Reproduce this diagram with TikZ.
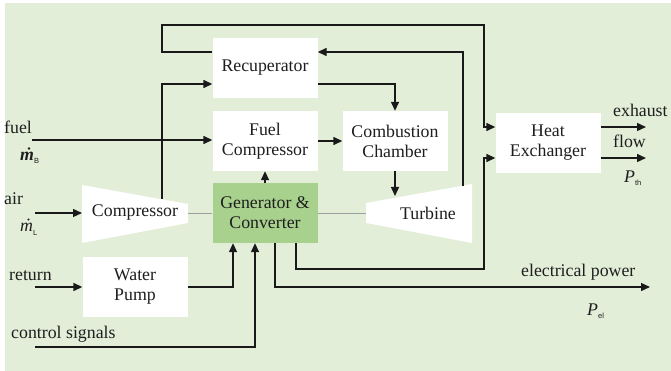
\documentclass[tikz,border=0pt]{standalone}
\usepackage{fontspec}
\setmainfont{Liberation Serif}
\setsansfont{Liberation Sans}
\usetikzlibrary{arrows.meta}
\definecolor{bgc}{HTML}{E2EED8}
\definecolor{genc}{HTML}{A9D18E}
\definecolor{txt}{HTML}{1E1E1E}
\newcommand{\subtiny}[1]{\raisebox{-3pt}{\fontsize{7.5}{8}\selectfont\sffamily #1}}
\begin{document}
\begin{tikzpicture}[x=1pt,y=-1pt,
  box/.style={fill=white, minimum width=105pt, minimum height=60pt, inner sep=0pt, align=center, text=txt, font=\rmfamily\fontsize{17.8}{20}\selectfont},
  lbl/.style={text=txt, font=\rmfamily\fontsize{17.8}{20}\selectfont, inner sep=0pt},
  conn/.style={line width=1.4pt, draw=black!90},
  arr/.style={conn, -{Triangle[length=9pt,width=8pt]}},
  shaft/.style={draw=gray!75, line width=0.9pt}]
\useasboundingbox (0,0) rectangle (671,371);
\fill[bgc] (5,3) rectangle (671,371);

% boxes
\node[box] (rec) at (265,68) {Recuperator};
\node[box] (fc) at (265,141) {Fuel\\Compressor};
\node[box, fill=genc] (gen) at (265,213) {Generator \&\\Converter};
\node[box] (cc) at (395,141) {Combustion\\Chamber};
\node[box] (hx) at (548,143) {Heat\\Exchanger};
\node[box] (wp) at (135,287) {Water\\Pump};

% compressor and turbine
\fill[white] (82,185) -- (188,204) -- (188,223) -- (82,243) -- cycle;
\node[lbl] (comp) at (135,213) {Compressor};
\fill[white] (366,203) -- (472,184) -- (472,243) -- (366,223) -- cycle;
\node[lbl] (turb) at (428,213) {Turbine};
\coordinate (compTop) at (162,199);
\coordinate (compL) at (82,213);
\coordinate (compR) at (188,213);
\coordinate (turbL) at (366,213);
\coordinate (turbOut) at (463,186);
\coordinate (turbIn) at (395,196);

% free ends
\coordinate (fuelS) at (32,140);
\coordinate (airS) at (35,213);
\coordinate (retS) at (35,287);
\coordinate (ctlS) at (35,347);
\coordinate (exhE) at (646,127);
\coordinate (thE) at (646,158);
\coordinate (elE) at (650,287);

% connectors
\draw[arr] ([yshift=16pt]rec.west) -| (162,25) -| (484,127) -- ([yshift=16pt]hx.west);
\draw[arr] (turbOut) |- ([yshift=16pt]rec.east);
\draw[arr] ([yshift=-16pt]rec.east) -| (cc.north);
\draw[arr] (compTop) |- ([yshift=-16pt]rec.west);
\draw[arr] (fuelS) -- (fuelS -| fc.west);
\draw[arr] (fc.east) -- (cc.west);
\draw[arr] (gen.north) -- (fc.south);
\draw[arr] (cc.south) -- (turbIn);
\draw[shaft] (compR) -- (gen.west);
\draw[shaft] (gen.east) -- (turbL);
\draw[arr] (airS) -- (compL);
\draw[arr] (retS) -- (wp.west);
\draw[arr] (wp.east) -| ([xshift=-32pt]gen.south);
\draw[arr] (ctlS) -| ([xshift=-10pt]gen.south);
\draw[arr] ([xshift=31pt]gen.south) |- (484,269) |- ([yshift=-15pt]hx.west);
\draw[arr] ([xshift=10pt]gen.south) |- (elE);
\draw[arr] ([yshift=16pt]hx.east) -- (exhE);
\draw[arr] ([yshift=-15pt]hx.east) -- (thE);

% labels
\node[lbl, anchor=base west] (tfuel) at (4,134) {fuel};
\node[lbl, anchor=base west] (tmb) at (20,161) {\bfseries\itshape m\mdseries\upshape\subtiny{B}};
\fill[txt] (29,148.5) circle (1.3pt);
\node[lbl, anchor=base west] (tair) at (4,205) {air};
\node[lbl, anchor=base west] (tml) at (20,232) {\itshape m\upshape\subtiny{L}};
\fill[txt] (28.5,219.5) circle (1.1pt);
\node[lbl, anchor=base west] (tret) at (9,280) {return};
\node[lbl, anchor=base west] (tctl) at (11,338) {control signals};
\node[lbl, anchor=base west] (tel) at (521,276) {electrical power};
\node[lbl, anchor=base west] (tpel) at (587,315) {\textit{P}\subtiny{el}};
\node[lbl, anchor=base west] (texh) at (613,117) {exhaust};
\node[lbl, anchor=base west] (tflow) at (613,148) {flow};
\node[lbl, anchor=base west] (tpth) at (624,183) {\textit{P}\subtiny{th}};
\end{tikzpicture}
\end{document}
